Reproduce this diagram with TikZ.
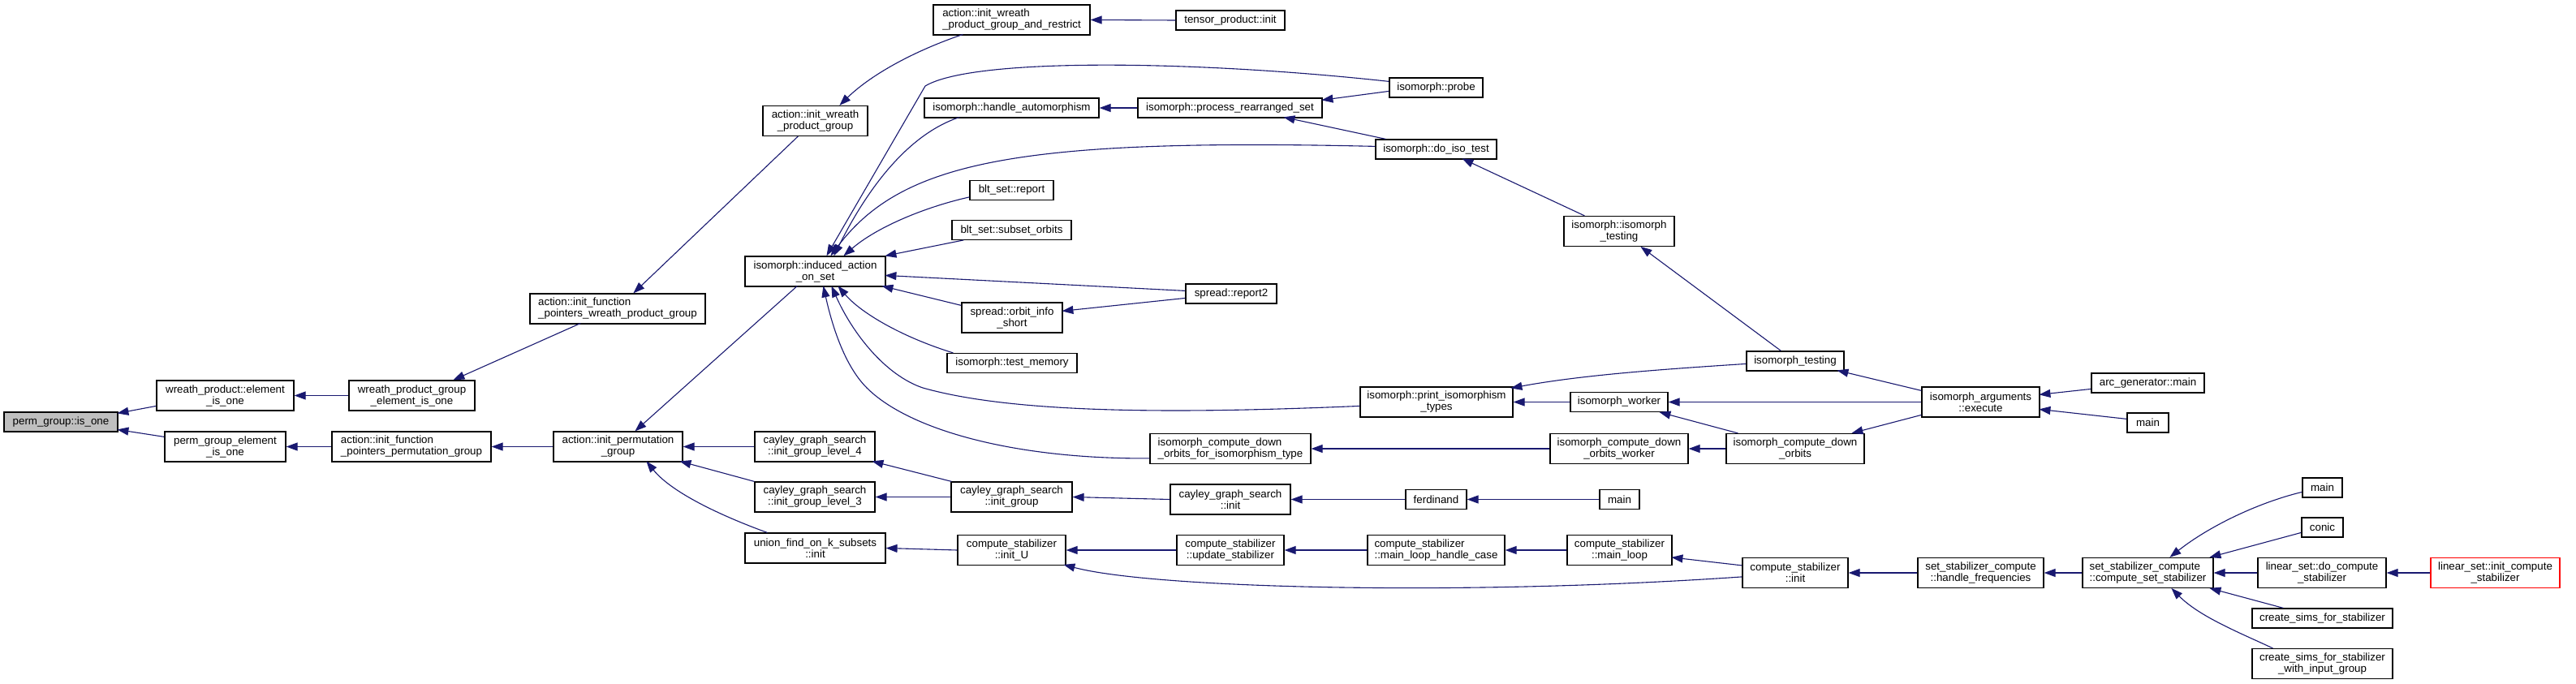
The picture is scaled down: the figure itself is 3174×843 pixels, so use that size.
\documentclass[tikz,border=0pt]{standalone}
\usepackage{fontspec}
\setmainfont{Liberation Sans}
\usetikzlibrary{arrows.meta,calc}
\definecolor{edgeblue}{HTML}{191970}
\definecolor{rootgray}{HTML}{BFBFBF}
\tikzset{
  box/.style={draw=black, line width=1.2pt, fill=white, inner sep=0pt,
    font=\fontsize{13.33}{14}\selectfont, text=black, align=center},
  b1/.style={box, minimum height=24pt},
  b2/.style={box, minimum height=37pt},
  lft/.style={align=left},
  edge/.style={draw=edgeblue, line width=1.1pt, -{Triangle[length=14pt,width=10pt]}},
}
\begin{document}
\begin{tikzpicture}[x=1pt,y=-1pt]
\fill[white] (0,0) rectangle (3174,843);
\useasboundingbox (0,0) rectangle (3174,843);
% nodes
\node[b1, minimum width=140pt, fill=rootgray] (n0) at (75,520) {perm\_group::is\_one};
\node[b2, minimum width=169pt] (n1) at (277.5,487.5) {wreath\_product::element\\\_is\_one};
\node[b2, minimum width=149pt] (n2) at (277.5,550.5) {perm\_group\_element\\\_is\_one};
\node[b2, minimum width=155pt] (n3) at (507.5,487.5) {wreath\_product\_group\\\_element\_is\_one};
\node[b2, lft, minimum width=196pt] (n4) at (507,550.5) {action::init\_function\\\_pointers\_permutation\_group};
\node[b2, minimum width=159pt] (n5) at (761.5,550.5) {action::init\_permutation\\\_group};
\node[b2, lft, minimum width=216pt] (n6) at (761,380.5) {action::init\_function\\\_pointers\_wreath\_product\_group};
\node[b2, lft, minimum width=193pt] (n7) at (1246.5,24.5) {action::init\_wreath\\\_product\_group\_and\_restrict};
\node[b1, minimum width=134pt] (n8) at (1516,25) {tensor\_product::init};
\node[b2, minimum width=129pt] (n9) at (1004.5,149) {action::init\_wreath\\\_product\_group};
\node[b1, minimum width=215pt] (n10) at (1246.5,133) {isomorph::handle\_automorphism};
\node[b1, minimum width=227pt] (n11) at (1515.5,133) {isomorph::process\_rearranged\_set};
\node[b1, minimum width=103pt] (n12) at (1246.5,234.5) {blt\_set::report};
\node[b1, minimum width=147pt] (n13) at (1246.5,283.5) {blt\_set::subset\_orbits};
\node[b2, minimum width=173pt] (n14) at (1004.5,334.5) {isomorph::induced\_action\\\_on\_set};
\node[b1, minimum width=112pt] (n15) at (1517,362) {spread::report2};
\node[b2, minimum width=124pt] (n16) at (1247,391.5) {spread::orbit\_info\\\_short};
\node[b1, minimum width=115pt] (n17) at (1769.5,108) {isomorph::probe};
\node[b1, minimum width=149pt] (n18) at (1769.5,184) {isomorph::do\_iso\_test};
\node[b2, minimum width=136pt] (n19) at (1995,285) {isomorph::isomorph\\\_testing};
\node[b1, minimum width=160pt] (n20) at (1247,447.5) {isomorph::test\_memory};
\node[b2, minimum width=148pt] (n21) at (1004,550.5) {cayley\_graph\_search\\::init\_group\_level\_4};
\node[b2, minimum width=148pt] (n22) at (1004,612.5) {cayley\_graph\_search\\::init\_group\_level\_3};
\node[b2, minimum width=173pt] (n23) at (1004.5,675.5) {union\_find\_on\_k\_subsets\\::init};
\node[b2, minimum width=149pt] (n24) at (1246.5,612.5) {cayley\_graph\_search\\::init\_group};
\node[b2, minimum width=133pt] (n25) at (1246.5,678) {compute\_stabilizer\\::init\_U};
\node[b2, lft, minimum width=198pt] (n26) at (1516,553) {isomorph\_compute\_down\\\_orbits\_for\_isomorphism\_type};
\node[b2, minimum width=148pt] (n27) at (1516,615.5) {cayley\_graph\_search\\::init};
\node[b2, minimum width=132pt] (n28) at (1516,678) {compute\_stabilizer\\::update\_stabilizer};
\node[b1, minimum width=120pt] (n29) at (2212,445) {isomorph\_testing};
\node[b2, minimum width=188pt] (n30) at (1770,495.5) {isomorph::print\_isomorphism\\\_types};
\node[b1, minimum width=120pt] (n31) at (1995,495.5) {isomorph\_worker};
\node[b2, minimum width=170pt] (n32) at (1995,553) {isomorph\_compute\_down\\\_orbits\_worker};
\node[b2, minimum width=170pt] (n33) at (2212,553) {isomorph\_compute\_down\\\_orbits};
\node[b1, minimum width=75pt] (n34) at (1769.5,615.5) {ferdinand};
\node[b1, minimum width=49pt] (n35) at (1995.5,615.5) {main};
\node[b2, lft, minimum width=169pt] (n36) at (1769.5,678) {compute\_stabilizer\\::main\_loop\_handle\_case};
\node[b2, minimum width=129pt] (n37) at (1995.5,678) {compute\_stabilizer\\::main\_loop};
\node[b2, minimum width=130pt] (n38) at (2212,706) {compute\_stabilizer\\::init};
\node[b2, minimum width=145pt] (n39) at (2440.5,495.5) {isomorph\_arguments\\::execute};
\node[b1, minimum width=139pt] (n40) at (2646.5,472) {arc\_generator::main};
\node[b1, minimum width=51pt] (n41) at (2646.5,521) {main};
\node[b2, minimum width=155pt] (n42) at (2440.5,706) {set\_stabilizer\_compute\\::handle\_frequencies};
\node[b2, lft, minimum width=161pt] (n43) at (2646.5,706) {set\_stabilizer\_compute\\::compute\_set\_stabilizer};
\node[b1, minimum width=49pt] (n44) at (2861.5,601) {main};
\node[b1, minimum width=51pt] (n45) at (2861.5,650) {conic};
\node[b2, minimum width=158pt] (n46) at (2861,706) {linear\_set::do\_compute\\\_stabilizer};
\node[b2, minimum width=159pt, draw=red] (n47) at (3074.5,706) {linear\_set::init\_compute\\\_stabilizer};
\node[b1, minimum width=173pt] (n48) at (2861.5,762) {create\_sims\_for\_stabilizer};
\node[b2, minimum width=173pt] (n49) at (2861.5,818) {create\_sims\_for\_stabilizer\\\_with\_input\_group};
% edges (caller -> callee)
\draw[edge] ($(n1.north west)+(0,32)$) -- ($(n0.north west)+(140,2)$);
\draw[edge] ($(n2.north west)+(0,7)$) -- ($(n0.north west)+(140,22)$);
\draw[edge] (n3.west) -- (n1.east);
\draw[edge] (n4.west) -- (n2.east);
\draw[edge] (n5.west) -- (n4.east);
\draw[edge] ($(n6.north west)+(63,37)$) -- ($(n3.north west)+(129,0)$);
\draw[edge] ($(n9.north west)+(44,38)$) -- ($(n6.north west)+(128,0)$);
\draw[edge] ($(n7.north west)+(37,37)$) .. controls (1120,65) and (1070,95) .. ($(n9.north west)+(95,0)$);
\draw[edge] (n8.west) -- (n7.east);
\draw[edge] ($(n14.north west)+(65,37)$) -- ($(n5.north west)+(101,0)$);
\draw[edge] (n21.west) -- (n5.east);
\draw[edge] ($(n22.north west)+(0,0)$) -- ($(n5.north west)+(156,37)$);
\draw[edge] ($(n23.north west)+(28,0)$) .. controls (900,640) and (830,610) .. ($(n5.north west)+(115,37)$);
\draw[edge] ($(n24.north west)+(1,0)$) -- ($(n21.north west)+(145,37)$);
\draw[edge] (n24.west) -- (n22.east);
\draw[edge] (n27.west) -- (n24.east);
\draw[edge] (n25.west) -- (n23.east);
\draw[edge] (n28.west) -- (n25.east);
\draw[edge] ($(n38.north west)+(0,24)$) .. controls (1800,735) and (1420,725) .. ($(n25.north west)+(131,37)$);
\draw[edge] (n36.west) -- (n28.east);
\draw[edge] (n37.west) -- (n36.east);
\draw[edge] ($(n38.north west)+(0,10)$) -- ($(n37.north west)+(129,28)$);
\draw[edge] (n42.west) -- (n38.east);
\draw[edge] (n43.west) -- (n42.east);
\draw[edge] ($(n44.north west)+(0,18)$) .. controls (2780,620) and (2720,650) .. ($(n43.north west)+(108,0)$);
\draw[edge] ($(n45.north west)+(0,19)$) -- ($(n43.north west)+(157,0)$);
\draw[edge] (n46.west) -- (n43.east);
\draw[edge] ($(n48.north west)+(39,0)$) -- ($(n43.north west)+(157,38)$);
\draw[edge] ($(n49.north west)+(26,0)$) .. controls (2760,780) and (2710,760) .. ($(n43.north west)+(110,38)$);
\draw[edge] (n47.west) -- (n46.east);
\draw[edge] (n35.west) -- (n34.east);
\draw[edge] (n34.west) -- (n27.east);
\draw[edge] ($(n40.north west)+(0,20)$) -- ($(n39.north west)+(145,10)$);
\draw[edge] ($(n41.north west)+(0,8)$) -- ($(n39.north west)+(145,28)$);
\draw[edge] ($(n39.north west)+(0,5)$) -- ($(n29.north west)+(112,24)$);
\draw[edge] (n39.west) -- (n31.east);
\draw[edge] ($(n39.north west)+(0,35)$) -- ($(n33.north west)+(155,0)$);
\draw[edge] (n33.west) -- (n32.east);
\draw[edge] ($(n33.north west)+(15,0)$) -- ($(n31.north west)+(110,25)$);
\draw[edge] (n32.west) -- (n26.east);
\draw[edge] (n31.west) -- (n30.east);
\draw[edge] ($(n29.north west)+(0,16)$) .. controls (2050,455) and (1950,462) .. ($(n30.north west)+(186,2)$);
\draw[edge] ($(n29.north west)+(43,0)$) -- ($(n19.north west)+(95,38)$);
\draw[edge] ($(n19.north west)+(26,0)$) -- ($(n18.north west)+(107,24)$);
\draw[edge] ($(n18.north west)+(13,0)$) -- ($(n11.north west)+(180,24)$);
\draw[edge] ($(n17.north west)+(0,17)$) -- ($(n11.north west)+(227,3)$);
\draw[edge] (n11.west) -- (n10.east);
\draw[edge] ($(n15.north west)+(0,18)$) -- ($(n16.north west)+(124,11)$);
\draw[edge] ($(n15.north west)+(0,9)$) -- ($(n14.north west)+(173,24)$);
\draw[edge] ($(n16.north west)+(0,4)$) -- ($(n14.north west)+(169,37)$);
\draw[edge] ($(n13.north west)+(15,25)$) -- ($(n14.north west)+(173,0)$);
\draw[edge] ($(n12.north west)+(0,21)$) .. controls (1140,255) and (1080,280) .. ($(n14.north west)+(122,0)$);
\draw[edge] ($(n10.north west)+(44,24)$) .. controls (1120,165) and (1070,230) .. ($(n14.north west)+(110,0)$);
\draw[edge] ($(n18.north west)+(0,9)$) .. controls (1250,170) and (1110,200) .. ($(n14.north west)+(106,0)$);
\draw[edge] ($(n17.north west)+(0,5)$) .. controls (1480,75) and (1200,70) .. (1140,106) -- ($(n14.north west)+(101,0)$);
\draw[edge] ($(n20.north west)+(8,0)$) .. controls (1110,415) and (1060,385) .. ($(n14.north west)+(115,37)$);
\draw[edge] ($(n30.north west)+(0,24)$) .. controls (1450,510) and (1250,510) .. (1137,478) .. controls (1090,462) and (1050,410) .. ($(n14.north west)+(107,37)$);
\draw[edge] ($(n26.north west)+(0,31)$) .. controls (1250,566) and (1120,530) .. (1068,478) .. controls (1040,450) and (1025,400) .. ($(n14.north west)+(97,37)$);
\end{tikzpicture}
\end{document}
